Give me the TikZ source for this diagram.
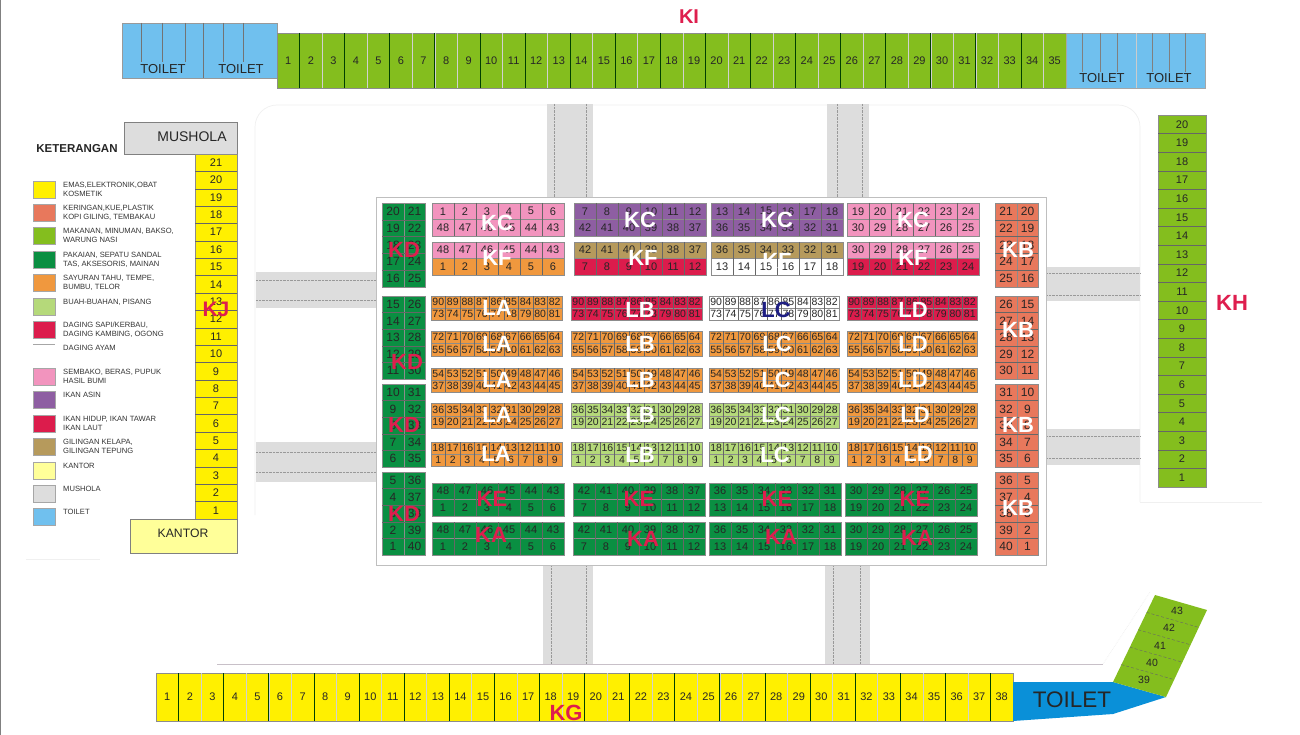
\documentclass[tikz,border=0pt]{standalone}
\usepackage{fontspec}
\setmainfont{Liberation Sans}
\usepackage{tikz}
\usetikzlibrary{calc}
\definecolor{myyellow}{RGB}{255,240,0}
\definecolor{mysalmon}{RGB}{232,120,92}
\definecolor{mylime}{RGB}{132,190,30}
\definecolor{mygreen}{RGB}{10,143,66}
\definecolor{myorange}{RGB}{240,152,62}
\definecolor{mysoft}{RGB}{181,217,122}
\definecolor{myred}{RGB}{220,28,76}
\definecolor{mypink}{RGB}{242,148,190}
\definecolor{mypurple}{RGB}{142,94,162}
\definecolor{mykhaki}{RGB}{182,154,92}
\definecolor{mycream}{RGB}{255,255,153}
\definecolor{myroad}{RGB}{221,221,221}
\definecolor{myblue}{RGB}{112,192,238}
\definecolor{mydeep}{RGB}{10,144,216}
\definecolor{myedge}{RGB}{200,192,200}
\definecolor{mylabel}{RGB}{222,30,78}
\definecolor{mynavy}{RGB}{30,30,130}
\def\numsize{11}
\tikzset{
  stallbox/.style={draw=black!45, line width=0.5pt},
  stalldiv/.style={draw=black!60, line width=0.5pt},
  stallnum/.style={text=black!85, inner sep=0pt, font=\fontsize{\numsize}{\numsize}\selectfont},
  strongdiv/.style={draw=black!75!green, line width=0.7pt},
  softdiv/.style={stalldiv/.style={draw=black!18, line width=0.5pt}},
  roadbox/.style={fill=myroad, draw=none},
  roadline/.style={draw=black!40, line width=0.4pt, densely dotted},
  edgeline/.style={draw=myedge, line width=0.8pt},
  faintline/.style={draw=black!6, line width=0.7pt},
  blocktag/.style={font=\fontsize{22}{22}\selectfont\bfseries, inner sep=0pt},
  whitetag/.style={blocktag, text=white},
  redtag/.style={blocktag, text=mylabel},
  roomtag/.style={text=black!85, inner sep=0pt},
  legendtext/.style={anchor=north west, inner sep=0pt, align=left, text=black!80,
    font=\fontsize{7.6}{8.6}\selectfont},
  legendbox/.style={draw=black!35, line width=0.4pt}
}
\newcommand{\stallrow}[7]{%
  \draw[stallbox, fill=#5] (#1,#2) rectangle (#3,#4);
  \foreach \n [count=\i] in {#7} {
    \ifnum\i<#6 \draw[stalldiv] ({#1+\i/#6*(#3-#1)},#2) -- ({#1+\i/#6*(#3-#1)},#4); \fi
    \node[stallnum] at ({#1+(\i-0.5)/#6*(#3-#1)},{(#2+#4)/2}) {\n};
  }}
\newcommand{\stallcol}[7]{%
  \draw[stallbox, fill=#5] (#1,#2) rectangle (#3,#4);
  \foreach \n [count=\i] in {#7} {
    \ifnum\i<#6 \draw[stalldiv] (#1,{#2+\i/#6*(#4-#2)}) -- (#3,{#2+\i/#6*(#4-#2)}); \fi
    \node[stallnum] at ({(#1+#3)/2},{#2+(\i-0.5)/#6*(#4-#2)}) {\n};
  }}
\newcommand{\stallpair}[7]{%
  \stallrow{#1}{\rowa}{#2}{\rowb}{#3}{#5}{#6}
  \stallrow{#1}{\rowb}{#2}{\rowc}{#4}{#5}{#7}}
\newcommand{\nineblock}[7]{%
  \def\rowa{296}\def\rowb{308}\def\rowc{320}
  \stallpair{#1}{#2}{#3}{#3}{9}{90,89,...,82}{73,...,81}
  \def\rowa{331}\def\rowb{343}\def\rowc{356}
  \stallpair{#1}{#2}{#4}{#4}{9}{72,71,...,64}{55,...,63}
  \def\rowa{368}\def\rowb{380}\def\rowc{392}
  \stallpair{#1}{#2}{#5}{#5}{9}{54,53,...,46}{37,...,45}
  \def\rowa{403}\def\rowb{416}\def\rowc{428}
  \stallpair{#1}{#2}{#6}{#6}{9}{36,35,...,28}{19,...,27}
  \def\rowa{442}\def\rowb{454}\def\rowc{466}
  \stallpair{#1}{#2}{#7}{#7}{9}{18,17,...,10}{1,...,9}}
\begin{document}
\begin{tikzpicture}[x=1pt, y=-1pt]
  \useasboundingbox (0,0) rectangle (1300,735);
  \fill[white] (0,0) rectangle (1300,735);
  \draw[draw=black!50, line width=1.2pt] (0.5,0) -- (0.5,735);

  \draw[faintline, rounded corners=22pt] (255,515) -- (255,105) -- (1140,105) -- (1140,502);
  \draw[faintline] (1140,502) -- (1262,502);
  \draw[faintline] (26,559) -- (100,559);
  \draw[faintline, densely dotted] (1103,664) -- (1150,592);
  \draw[edgeline] (217,664) -- (1103,664);

  \fill[roadbox] (547,104) rectangle (593,197);
  \fill[roadbox] (827,104) rectangle (869,197);
  \fill[roadbox] (543,565) rectangle (593,664);
  \fill[roadbox] (825,565) rectangle (870,664);
  \fill[roadbox] (256,272) rectangle (376,308);
  \fill[roadbox] (256,442) rectangle (376,482);
  \fill[roadbox] (1046,267) rectangle (1140,301);
  \fill[roadbox] (1046,429) rectangle (1140,465);
  \foreach \xa in {554,586} \draw[roadline] (\xa,104) -- (\xa,197);
  \foreach \xa in {837,862} \draw[roadline] (\xa,104) -- (\xa,197);
  \foreach \xa in {551,586} \draw[roadline] (\xa,565) -- (\xa,664);
  \foreach \xa in {833,860} \draw[roadline] (\xa,565) -- (\xa,664);
  \foreach \ya in {280,300,452,472} \draw[roadline] (256,\ya) -- (376,\ya);
  \foreach \ya in {273,295,436,458} \draw[roadline] (1046,\ya) -- (1140,\ya);

  \draw[edgeline, draw=black!25, fill=white] (376,197) rectangle (1046,565);

  % top row
  \draw[draw=black!40, fill=myblue] (122,23) rectangle (277,78);
  \foreach \xa in {141,162,185,223,243} \draw[draw=black!55] (\xa,23) -- (\xa,62);
  \draw[draw=black!55] (203,23) -- (203,78);
  \node[roomtag, font=\fontsize{13}{13}\selectfont] (toiletA) at (163,69) {TOILET};
  \node[roomtag, font=\fontsize{13}{13}\selectfont] (toiletB) at (241,69) {TOILET};
  \begin{scope}[softdiv]
    \stallrow{277}{33}{1066}{88}{mylime}{35}{1,...,35}
  \end{scope}
  \foreach \k in {1,3,...,33} \draw[strongdiv] ({277+\k/35*789},33) -- ({277+\k/35*789},88);
  \draw[draw=black!35, fill=myblue] (1066,33) rectangle (1205,88);
  \foreach \xa in {1082,1100,1117,1152,1169,1185} \draw[draw=black!50] (\xa,33) -- (\xa,72);
  \draw[draw=black!20] (1136,33) -- (1136,88);
  \node[roomtag, font=\fontsize{13}{13}\selectfont] (toiletC) at (1102,78) {TOILET};
  \node[roomtag, font=\fontsize{13}{13}\selectfont] (toiletD) at (1169,78) {TOILET};
  \node[redtag, font=\fontsize{20}{20}\selectfont\bfseries] (tagKI) at (689,17) {KI};

  % right column
  \stallcol{1158}{115}{1206}{487}{mylime}{20}{20,19,...,1}
  \node[redtag] (tagKH) at (1232,303) {KH};

  % left column
  \draw[draw=black!50, fill=myroad] (124,122) rectangle (237,154);
  \node[roomtag, font=\fontsize{14}{14}\selectfont] (mushola) at (192,137) {MUSHOLA};
  \stallcol{195}{154}{237}{519}{myyellow}{21}{21,20,...,1}
  \node[redtag, font=\fontsize{21}{21}\selectfont\bfseries] (tagKJ) at (216,309) {KJ};
  \draw[draw=black!50, fill=mycream] (130,519) rectangle (237,553);
  \node[roomtag, font=\fontsize{12.2}{12.2}\selectfont] (kantor) at (183,533) {KANTOR};

  % legend
  \node[roomtag, font=\fontsize{11.5}{11.5}\selectfont\bfseries] (legendhead) at (77,149) {KETERANGAN};
  \foreach \ya/\col/\txt [count=\i] in {
    181/myyellow/{EMAS,ELEKTRONIK,OBAT\\KOSMETIK},
    204/mysalmon/{KERINGAN,KUE,PLASTIK\\KOPI GILING, TEMBAKAU},
    227/mylime/{MAKANAN, MINUMAN, BAKSO,\\WARUNG NASI},
    251/mygreen/{PAKAIAN, SEPATU SANDAL\\TAS, AKSESORIS, MAINAN},
    274/myorange/{SAYURAN TAHU, TEMPE,\\BUMBU, TELOR},
    298/mysoft/{BUAH-BUAHAN, PISANG},
    321/myred/{DAGING SAPI/KERBAU,\\DAGING KAMBING, OGONG},
    368/mypink/{SEMBAKO, BERAS, PUPUK\\HASIL BUMI},
    391/mypurple/{IKAN ASIN},
    415/myred/{IKAN HIDUP, IKAN TAWAR\\IKAN LAUT},
    438/mykhaki/{GILINGAN KELAPA,\\GILINGAN TEPUNG},
    462/mycream/{KANTOR},
    485/myroad/{MUSHOLA},
    508/myblue/{TOILET}} {
    \draw[legendbox, fill=\col] (33,\ya) rectangle (55,\ya+17);
    \node[legendtext] (legend\i) at (63,\ya+1) {\txt};
  }
  \draw[legendbox] (33,344) -- (55,344);
  \node[legendtext] (legendayam) at (63,345) {DAGING AYAM};

  % KD and KB columns
  \def\numsize{12}
  \stallcol{382}{203}{404}{287}{mygreen}{5}{20,19,...,16}
  \stallcol{404}{203}{425}{287}{mygreen}{5}{21,...,25}
  \stallcol{382}{296}{404}{379}{mygreen}{5}{15,14,...,11}
  \stallcol{404}{296}{425}{379}{mygreen}{5}{26,...,30}
  \stallcol{382}{384}{404}{467}{mygreen}{5}{10,9,...,6}
  \stallcol{404}{384}{425}{467}{mygreen}{5}{31,...,35}
  \stallcol{382}{472}{404}{555}{mygreen}{5}{5,4,...,1}
  \stallcol{404}{472}{425}{555}{mygreen}{5}{36,...,40}
  \stallcol{995}{203}{1017}{287}{mysalmon}{5}{21,...,25}
  \stallcol{1017}{203}{1038}{287}{mysalmon}{5}{20,19,...,16}
  \stallcol{995}{296}{1017}{379}{mysalmon}{5}{26,...,30}
  \stallcol{1017}{296}{1038}{379}{mysalmon}{5}{15,14,...,11}
  \stallcol{995}{384}{1017}{467}{mysalmon}{5}{31,...,35}
  \stallcol{1017}{384}{1038}{467}{mysalmon}{5}{10,9,...,6}
  \stallcol{995}{472}{1017}{555}{mysalmon}{5}{36,...,40}
  \stallcol{1017}{472}{1038}{555}{mysalmon}{5}{5,4,...,1}

  % six stall blocks
  \def\numsize{11}
  \def\rowa{203}\def\rowb{219.5}\def\rowc{236}
  \stallpair{432}{564}{mypink}{mypink}{6}{1,...,6}{48,47,...,43}
  \stallpair{574}{706}{mypurple}{mypurple}{6}{7,...,12}{42,41,...,37}
  \stallpair{711}{843}{mypurple}{mypurple}{6}{13,...,18}{36,35,...,31}
  \stallpair{847}{979}{mypink}{mypink}{6}{19,...,24}{30,29,...,25}
  \def\rowa{242}\def\rowb{258}\def\rowc{275}
  \stallpair{432}{564}{mypink}{myorange}{6}{48,47,...,43}{1,...,6}
  \stallpair{574}{706}{mykhaki}{myred}{6}{42,41,...,37}{7,...,12}
  \stallpair{711}{843}{mykhaki}{white}{6}{36,35,...,31}{13,...,18}
  \stallpair{847}{979}{mypink}{myred}{6}{30,29,...,25}{19,...,24}
  \def\rowa{483}\def\rowb{499}\def\rowc{516}
  \stallpair{432}{564}{mygreen}{mygreen}{6}{48,47,...,43}{1,...,6}
  \stallpair{573}{705}{mygreen}{mygreen}{6}{42,41,...,37}{7,...,12}
  \stallpair{709}{841}{mygreen}{mygreen}{6}{36,35,...,31}{13,...,18}
  \stallpair{845}{977}{mygreen}{mygreen}{6}{30,29,...,25}{19,...,24}
  \def\rowa{522}\def\rowb{538}\def\rowc{555}
  \stallpair{432}{564}{mygreen}{mygreen}{6}{48,47,...,43}{1,...,6}
  \stallpair{573}{705}{mygreen}{mygreen}{6}{42,41,...,37}{7,...,12}
  \stallpair{709}{841}{mygreen}{mygreen}{6}{36,35,...,31}{13,...,18}
  \stallpair{845}{977}{mygreen}{mygreen}{6}{30,29,...,25}{19,...,24}

  % nine stall blocks
  \def\numsize{10.5}
  \nineblock{431}{562}{myorange}{myorange}{myorange}{myorange}{myorange}
  \nineblock{571}{702}{myred}{myorange}{myorange}{mysoft}{mysoft}
  \nineblock{709}{839}{white}{myorange}{myorange}{mysoft}{mysoft}
  \nineblock{847}{977}{myred}{myorange}{myorange}{myorange}{myorange}

  % bottom row
  \def\numsize{11}
  \begin{scope}[softdiv]
    \stallrow{156}{673}{1013}{721}{myyellow}{38}{1,...,38}
  \end{scope}
  \foreach \k in {1,3,...,37} \draw[strongdiv] ({156+\k/38*857},673) -- ({156+\k/38*857},721);
  \fill[mydeep] (1013,682) -- (1113,682) -- (1166,697) -- (1113,714) -- (1013,721) -- cycle;
  \node[roomtag, font=\fontsize{22.5}{22.5}\selectfont] (toiletE) at (1072,700) {TOILET};
  \fill[mylime] (1113,682) -- (1166,697) -- (1207,610) -- (1155,595) -- cycle;
  \foreach \k in {1,...,4}
    \draw[draw=black!60, line width=0.4pt, densely dashed]
      ($(1113,682)!\k/5!(1155,595)$) -- ($(1166,697)!\k/5!(1207,610)$);
  \foreach \xa/\ya/\n in {1144/680/39,1152/663/40,1160/646/41,1169/628/42,1177/611/43}
    \node[stallnum, font=\fontsize{10.5}{10.5}\selectfont] (angled\n) at (\xa,\ya) {\n};
  \node[redtag] (tagKG) at (566,713) {KG};

  % block labels
  \foreach \xa/\ya/\t [count=\i] in {497/223/KC,640/220/KC,777/220/KC,913/220/KC,
    497/258/KF,643/258/KF,777/261/KF,913/258/KF,1018/250/KB,1018/330/KB,1018/425/KB,1018/508/KB,
    497/308/LA,497/344/LA,497/380/LA,497/415/LA,496/454/LA,
    640/310/LB,640/344/LB,640/380/LB,640/415/LB,640/455/LB,
    777/344/LC,776/380/LC,776/415/LC,775/455/LC,
    913/310/LD,913/344/LD,913/380/LD,915/415/LD,918/454/LD}
    \node[whitetag] (whitetag\i) at (\xa,\ya) {\t};
  \node[blocktag, text=mynavy] (tagLC) at (776,310) {LC};
  \foreach \xa/\ya/\t [count=\i] in {404/250/KD,407/362/KD,404/425/KD,404/514/KD,
    492/499/KE,639/499/KE,777/499/KE,915/499/KE,
    491/535/KA,643/539/KA,781/537/KA,917/538/KA}
    \node[redtag] (redtag\i) at (\xa,\ya) {\t};
\end{tikzpicture}
\end{document}
